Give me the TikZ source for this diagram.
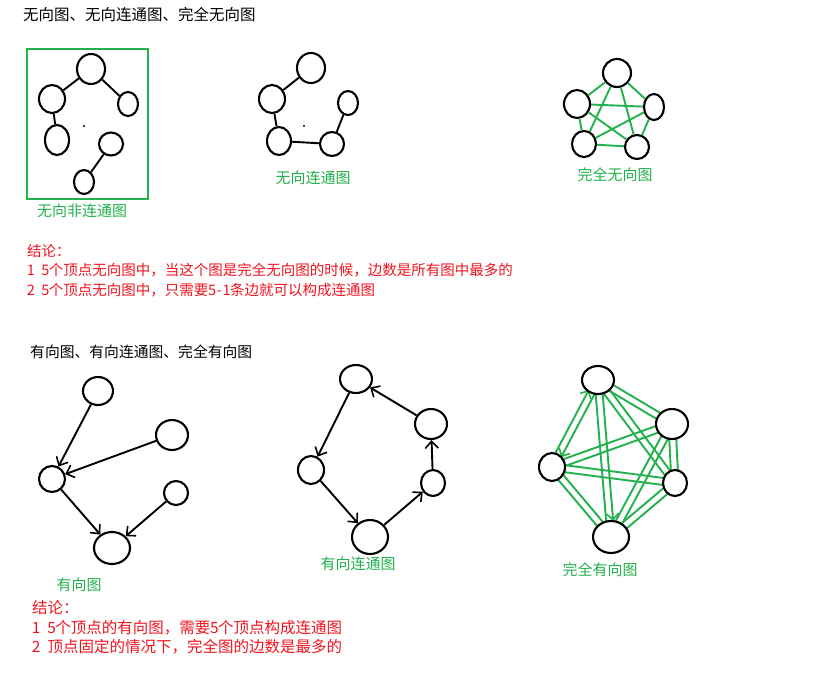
\documentclass[tikz,border=0pt]{standalone}
\usepackage{fontspec}
\setmainfont{Noto Sans CJK SC}
\usetikzlibrary{shapes.geometric,arrows.meta,calc,backgrounds}
\definecolor{pgreen}{RGB}{34,177,76}
\definecolor{pred}{RGB}{240,20,30}
\newcommand\hw[1]{\makebox[0.5em][c]{#1}}
\newcommand\hs{\hspace*{0.5em}}
\newcommand\dedge[3][]{\draw[gl,#1] ($(#2)!3.5pt!90:(#3)$) -- ($(#3)!3.5pt!-90:(#2)$);}
\begin{document}
\begin{tikzpicture}[x=1pt,y=-1pt,
  ell/.style={draw=black,fill=white,ellipse,inner sep=0pt,line width=2.1pt},
  bl/.style={draw=black,line width=1.9pt},
  gl/.style={draw=pgreen,line width=1.9pt},
  arr/.style={bl,-{Straight Barb[length=7pt,width=13pt,line width=1.6pt]}},
  garr/.style={-{Straight Barb[length=6pt,width=12pt,line width=1.6pt]}},
  ttl/.style={anchor=west,inner sep=0pt,font=\fontsize{15.5}{18}\selectfont},
  ttl2/.style={anchor=west,inner sep=0pt,font=\fontsize{14.8}{18}\selectfont},
  glab/.style={inner sep=0pt,text=pgreen,font=\fontsize{15}{18}\selectfont},
  rtxt/.style={anchor=west,inner sep=0pt,text=pred,font=\fontsize{14.5}{18}\selectfont},
  rtxt2/.style={anchor=west,inner sep=0pt,text=pred,font=\fontsize{15.5}{18}\selectfont},
  dotm/.style={fill=black,circle,inner sep=0pt,minimum size=2.4pt}]
\useasboundingbox (0,0) rectangle (833,686);

% ---------- titles ----------
\node[ttl] (title1) at (23,15) {无向图、无向连通图、完全无向图};

% ---------- undirected disconnected ----------
\draw[pgreen,line width=2pt] (27,49) rectangle (148,199);
\node[ell,minimum width=28,minimum height=30] (a1) at (91,69) {};
\node[ell,minimum width=26,minimum height=28] (a2) at (52,99) {};
\node[ell,minimum width=20,minimum height=24] (a3) at (128,104) {};
\node[ell,minimum width=24,minimum height=30] (a4) at (57,140) {};
\node[ell,minimum width=24,minimum height=23] (a5) at (111,144) {};
\node[ell,minimum width=20,minimum height=24] (a6) at (84,182) {};
\node[dotm] (adot) at (84,126) {};
\draw[bl] (a1) -- (a2);
\draw[bl] (a1) -- (a3);
\draw[bl] (a2) -- (a4);
\draw[bl] (a5) -- (a6);
\node[glab] (lab1) at (82,211) {无向非连通图};

% ---------- undirected connected ----------
\node[ell,minimum width=28,minimum height=30] (b1) at (311,68) {};
\node[ell,minimum width=26,minimum height=28] (b2) at (272,99) {};
\node[ell,minimum width=20,minimum height=24] (b3) at (348,103) {};
\node[ell,minimum width=24,minimum height=28] (b4) at (279,141) {};
\node[ell,minimum width=24,minimum height=24] (b5) at (332,144) {};
\node[dotm] (bdot) at (304,126) {};
\draw[bl] (b1) -- (b2);
\draw[bl] (b2) -- (b4);
\draw[bl] (b4) -- (b5);
\draw[bl] (b5) -- (b3);
\node[glab] (lab2) at (313,178) {无向连通图};

% ---------- complete undirected ----------
\node[ell,minimum width=28,minimum height=28] (c1) at (617,73) {};
\node[ell,minimum width=26,minimum height=28] (c2) at (577,104) {};
\node[ell,minimum width=20,minimum height=26] (c3) at (654,107) {};
\node[ell,minimum width=24,minimum height=26] (c4) at (584,144) {};
\node[ell,minimum width=24,minimum height=24] (c5) at (637,147) {};
\foreach \u/\v in {c1/c2,c1/c3,c1/c4,c1/c5,c2/c3,c2/c4,c2/c5,c3/c4,c3/c5,c4/c5}
  \draw[gl] (\u) -- (\v);
\node[glab] (lab3) at (615,175) {完全无向图};

% ---------- conclusions 1 ----------
\node[rtxt] (r1) at (27,251) {结论：};
\node[rtxt] (r2) at (27,270) {\hw{1}\hs\hw{5}个顶点无向图中，当这个图是完全无向图的时候，边数是所有图中最多的};
\node[rtxt] (r3) at (27,290) {\hw{2}\hs\hw{5}个顶点无向图中，只需要\hw{5}\hw{-}\hw{1}条边就可以构成连通图};

% ---------- title 2 ----------
\node[ttl2] (title2) at (30,352) {有向图、有向连通图、完全有向图};

% ---------- directed graph ----------
\node[ell,minimum width=30,minimum height=28] (d1) at (98,391) {};
\node[ell,minimum width=32,minimum height=30] (d2) at (172,435) {};
\node[ell,minimum width=26,minimum height=26] (d3) at (52,479) {};
\node[ell,minimum width=24,minimum height=24] (d4) at (176,493) {};
\node[ell,minimum width=36,minimum height=32] (d5) at (112,548) {};
\draw[arr] (d1) -- (d3);
\draw[arr] (d2) -- (d3);
\draw[arr] (d3) -- (d5);
\draw[arr] (d4) -- (d5);
\node[glab] (lab4) at (79,585) {有向图};

% ---------- directed connected ----------
\node[ell,minimum width=32,minimum height=28] (e1) at (356,379) {};
\node[ell,minimum width=32,minimum height=30] (e2) at (431,424) {};
\node[ell,minimum width=26,minimum height=28] (e3) at (311,470) {};
\node[ell,minimum width=24,minimum height=26] (e4) at (433,483) {};
\node[ell,minimum width=36,minimum height=34] (e5) at (370,537) {};
\draw[arr] (e1) -- (e3);
\draw[arr] (e3) -- (e5);
\draw[arr] (e5) -- (e4);
\draw[arr] (e4) -- (e2);
\draw[arr] (e2) -- (e1);
\node[glab] (lab5) at (358,564) {有向连通图};

% ---------- complete directed ----------
\node[ell,minimum width=32,minimum height=28] (f1) at (598,380) {};
\node[ell,minimum width=32,minimum height=30] (f2) at (672,424) {};
\node[ell,minimum width=26,minimum height=28] (f3) at (552,467) {};
\node[ell,minimum width=24,minimum height=26] (f4) at (675,483) {};
\node[ell,minimum width=36,minimum height=32] (f5) at (611,537) {};
\begin{scope}[on background layer]
  \dedge[garr,shorten >=13pt]{f3}{f1}
  \dedge[garr,shorten >=13pt]{f1}{f3}
  \dedge{f1}{f2} \dedge{f2}{f1}
  \dedge{f1}{f4} \dedge{f4}{f1}
  \dedge[garr,shorten >=16pt]{f1}{f5}
  \dedge{f5}{f1}
  \dedge{f2}{f3} \dedge{f3}{f2}
  \dedge{f2}{f4} \dedge{f4}{f2}
  \dedge{f2}{f5} \dedge{f5}{f2}
  \dedge{f3}{f4} \dedge{f4}{f3}
  \dedge{f3}{f5} \dedge{f5}{f3}
  \dedge{f4}{f5} \dedge{f5}{f4}
\end{scope}
\node[glab] (lab6) at (600,570) {完全有向图};

% ---------- conclusions 2 ----------
\node[rtxt2] (s1) at (32,608) {结论：};
\node[rtxt2] (s2) at (32,628) {\hw{1}\hs\hw{5}个顶点的有向图，需要\hw{5}个顶点构成连通图};
\node[rtxt2] (s3) at (32,647) {\hw{2}\hs 顶点固定的情况下，完全图的边数是最多的};
\end{tikzpicture}
\end{document}
